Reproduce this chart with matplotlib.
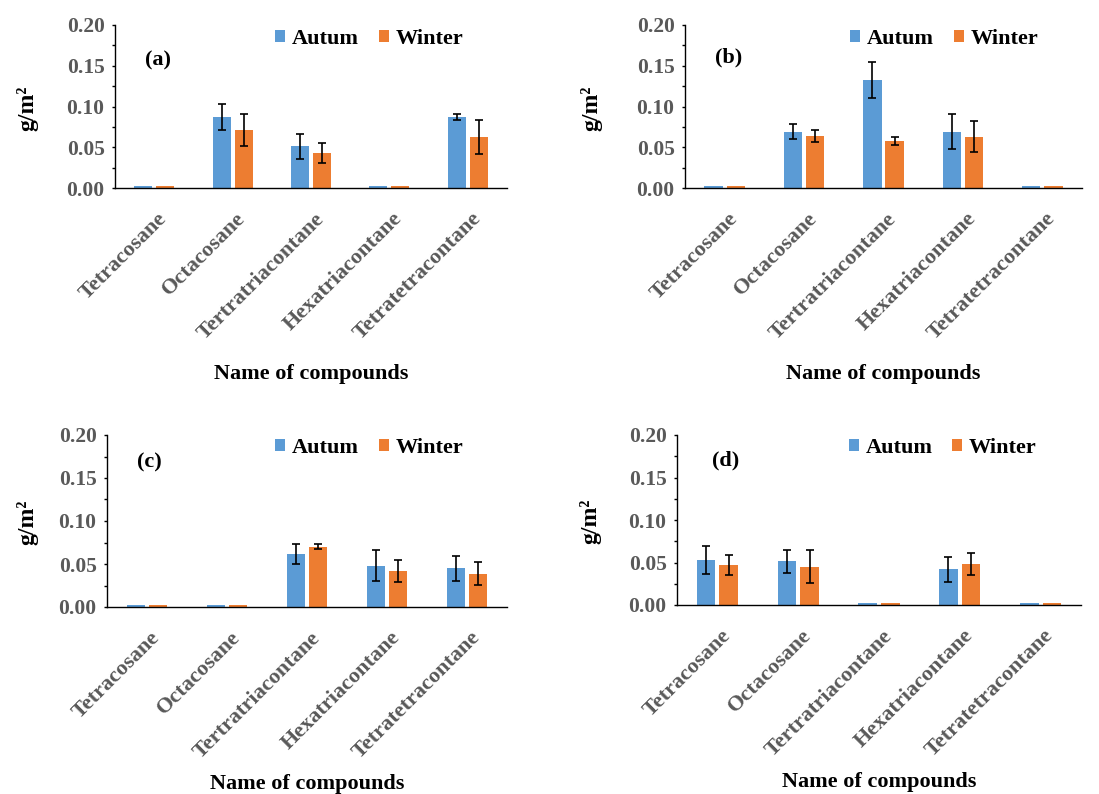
import numpy as np
import matplotlib
matplotlib.use("Agg")
import matplotlib.pyplot as plt
import matplotlib.transforms as mtransforms
from matplotlib.ticker import MultipleLocator

plt.rcParams["font.family"] = ["Liberation Serif", "DejaVu Serif"]
plt.rcParams["font.weight"] = "bold"

compounds = ["Tetracosane", "Octacosane", "Tertratriacontane",
             "Hexatriacontane", "Tetratetracontane"]
seasons = ["Autum", "Winter"]

# panel values (g/m2)
a_autumn = [0.002, 0.087, 0.051, 0.002, 0.087]
a_autumn_err = [0.0, 0.0155, 0.0156, 0.0, 0.004]
a_winter = [0.002, 0.071, 0.0434, 0.002, 0.0627]
a_winter_err = [0.0, 0.020, 0.0123, 0.0, 0.021]

b_autumn = [0.002, 0.069, 0.1324, 0.0693, 0.002]
b_autumn_err = [0.0, 0.0094, 0.0225, 0.022, 0.0]
b_winter = [0.002, 0.0643, 0.0578, 0.0627, 0.002]
b_winter_err = [0.0, 0.0074, 0.0045, 0.019, 0.0]

c_autumn = [0.002, 0.002, 0.0621, 0.0482, 0.045]
c_autumn_err = [0.0, 0.0, 0.0117, 0.018, 0.0148]
c_winter = [0.002, 0.002, 0.0699, 0.042, 0.0388]
c_winter_err = [0.0, 0.0, 0.003, 0.0132, 0.013]

d_autumn = [0.0529, 0.0514, 0.002, 0.042, 0.002]
d_autumn_err = [0.0165, 0.0133, 0.0, 0.015, 0.0]
d_winter = [0.0467, 0.0451, 0.002, 0.0482, 0.002]
d_winter_err = [0.0118, 0.0196, 0.0, 0.0134, 0.0]

panel_tags = ["(a)", "(b)", "(c)", "(d)"]

BLUE = "#5B9BD5"
ORANGE = "#ED7D31"
GRAY = "#595959"

W, H = 1099, 794


def px_axes(fig, left, right, top, bottom):
    return fig.add_axes([left / W, 1 - bottom / H, (right - left) / W, (bottom - top) / H])


def bars_with_err(ax, xpos, vals, errs, color, label):
    ax.bar(xpos, vals, 0.23, color=color, edgecolor="none", linewidth=0, label=label)
    vals = np.asarray(vals)
    errs = np.asarray(errs)
    keep = errs > 0
    ax.errorbar(xpos[keep], vals[keep], yerr=errs[keep], fmt="none", ecolor="black",
                elinewidth=1.2, capsize=3, capthick=1.2)


def draw_panel(fig, box, tag, autumn, autumn_err, winter, winter_err,
               tag_pos, ylab_x, xlab_y):
    ax = px_axes(fig, *box)
    x = np.arange(len(compounds))
    bars_with_err(ax, x - 0.14, autumn, autumn_err, BLUE, seasons[0])
    bars_with_err(ax, x + 0.14, winter, winter_err, ORANGE, seasons[1])

    ax.set_xlim(-0.5, len(compounds) - 0.5)
    ax.set_ylim(0, 0.2)
    ax.yaxis.set_minor_locator(MultipleLocator(0.025))
    ax.set_yticks(np.arange(0, 0.201, 0.05))
    ax.set_yticklabels([f"{v:.2f}" for v in np.arange(0, 0.201, 0.05)])
    ax.tick_params(axis="y", which="both", direction="out", length=2.5, width=1,
                   labelsize=15.5, labelcolor=GRAY, pad=5)
    ax.tick_params(axis="x", length=0, pad=20)

    ax.set_xticks(x)
    ax.set_xticklabels(compounds, rotation=45, ha="right", va="center",
                       rotation_mode="anchor", fontsize=16, color=GRAY)
    shift = mtransforms.ScaledTranslation(10 / 100, 0, fig.dpi_scale_trans)
    for lbl in ax.get_xticklabels():
        lbl.set_transform(lbl.get_transform() + shift)

    for s in ["top", "right"]:
        ax.spines[s].set_visible(False)
    ax.spines["left"].set_linewidth(1)
    ax.spines["bottom"].set_linewidth(1)

    ax.set_ylabel("g/m\u00b2", fontsize=17, fontweight="bold")
    ax.yaxis.set_label_coords(ylab_x, 0.49)
    ax.set_xlabel("Name of compounds", fontsize=16, fontweight="bold")
    ax.xaxis.set_label_coords(0.5, xlab_y)

    ax.text(tag_pos[0], tag_pos[1], tag, transform=ax.transAxes, fontsize=16,
            fontweight="bold", va="center", ha="left")

    ax.legend(loc="upper right", bbox_to_anchor=(0.94, 1.10), ncol=2, frameon=False,
              fontsize=16, handlelength=0.45, handleheight=0.45, handletextpad=0.3,
              columnspacing=0.9)
    return ax


def main():
    fig = plt.figure(figsize=(W / 100, H / 100), dpi=100)
    draw_panel(fig, (115, 507, 25, 188), panel_tags[0], a_autumn, a_autumn_err,
               a_winter, a_winter_err, (0.077, 0.785), -0.196, -1.08)
    draw_panel(fig, (685, 1082, 25, 188), panel_tags[1], b_autumn, b_autumn_err,
               b_winter, b_winter_err, (0.076, 0.80), -0.207, -1.08)
    draw_panel(fig, (107, 507, 435, 607), panel_tags[2], c_autumn, c_autumn_err,
               c_winter, c_winter_err, (0.075, 0.84), -0.172, -0.97)
    draw_panel(fig, (677, 1081, 435, 605), panel_tags[3], d_autumn, d_autumn_err,
               d_winter, d_winter_err, (0.087, 0.85), -0.186, -0.98)
    fig.savefig("out.png", dpi=100)


if __name__ == "__main__":
    main()
